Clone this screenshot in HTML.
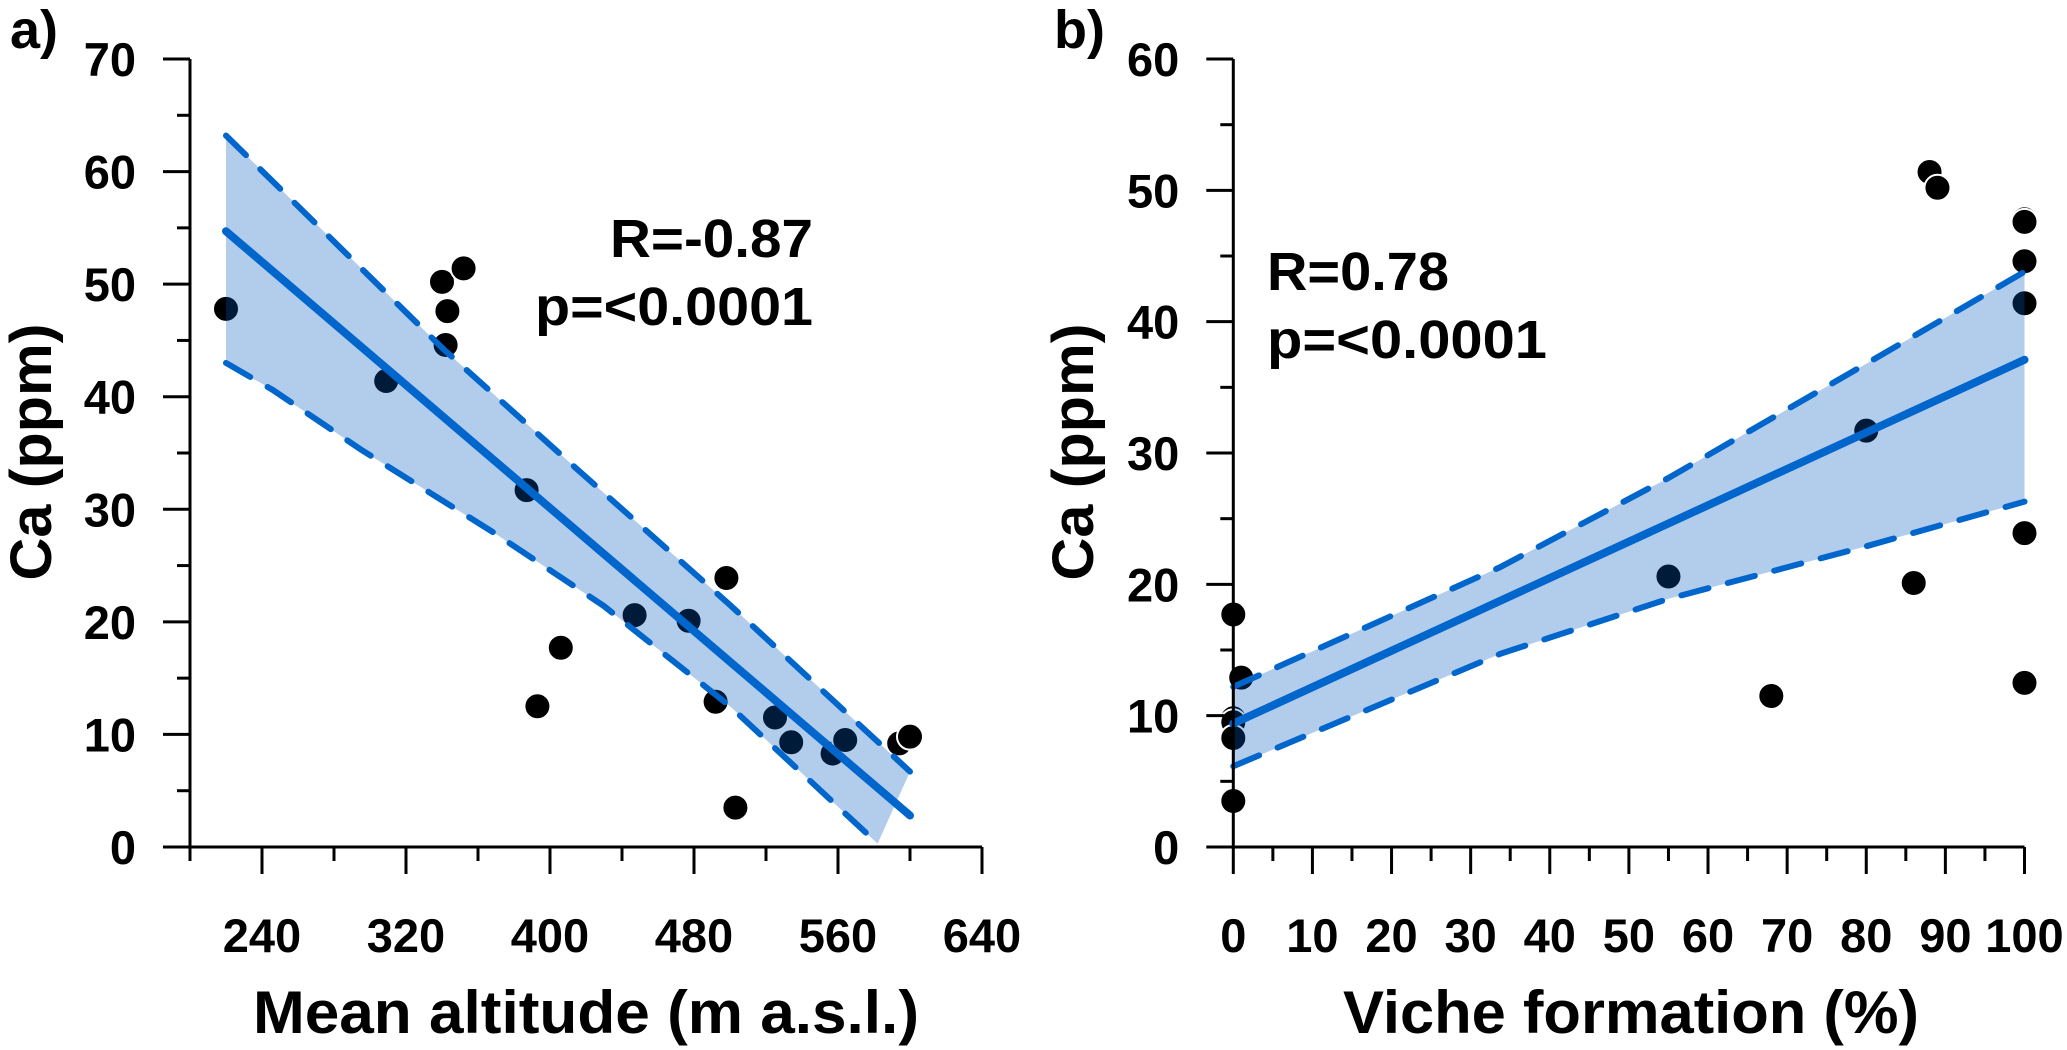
<!DOCTYPE html>
<html><head><meta charset="utf-8"><style>
html,body{margin:0;padding:0;background:#fff}
svg{display:block}
text{font-family:"Liberation Sans",sans-serif;font-weight:bold;fill:#000}
</style></head><body>
<svg id="chart" width="2067" height="1050" viewBox="0 0 2067 1050" xmlns="http://www.w3.org/2000/svg">
<g id="pa"></g>
<g id="pb"></g>
</svg>
<script>
// ---- Panel a data ----
const altX = [220,309,340,343,342,352,387,406,393,447,477,498,492,503,525,534,557,564,594,600];
const altCa = [47.8,41.4,50.2,47.6,44.6,51.4,31.7,17.7,12.5,20.6,20.1,23.9,12.9,3.5,11.5,9.3,8.3,9.5,9.2,9.8];
const altFitX = [220,600];
const altFitY = [54.7,2.8];
const altUpX = [220,271,341,412,500,600];
const altUpY = [63.2,55.2,44.2,34.0,21.5,6.7];
const altLoX = [220,246,295,369,430,500,582];
const altLoY = [43.0,40.6,35.3,27.9,21.4,12.5,0.3];
const altYTicks = [0,10,20,30,40,50,60,70];
const altXTicks = [240,320,400,480,560,640];
// ---- Panel b data ----
const vicX = [0,1,0,0,0,0,55,68,80,86,88,89,100,100,100,100,100,100];
const vicCa = [17.7,12.9,9.8,9.5,8.3,3.5,20.6,11.5,31.7,20.1,51.4,50.2,47.8,47.6,44.6,41.4,23.9,12.5];
const vicFitX = [0,100];
const vicFitY = [9.4,37.1];
const vicUpX = [0,33.7,55,80,100];
const vicUpY = [12.2,21.3,28.1,36.8,43.8];
const vicLoX = [0,33.7,55,80,100];
const vicLoY = [6.15,14.7,18.9,22.9,26.3];
const vicYTicks = [0,10,20,30,40,50,60];
const vicXTicks = [0,10,20,30,40,50,60,70,80,90,100];

const NS = "http://www.w3.org/2000/svg";
function mk(parent, tag, attrs, txt){
  const e = document.createElementNS(NS, tag);
  for (const k in attrs) e.setAttribute(k, attrs[k]);
  if (txt !== undefined) e.textContent = txt;
  parent.appendChild(e);
  return e;
}
const BLUE = "#0066cc";

function drawPanel(g, cfg){
  const {x, y} = cfg;
  cfg.px.forEach((v,i)=>{
    const c = mk(g,'circle',{cx:x(v),cy:y(cfg.py[i]),r:13,fill:'#000',stroke:'#fff','stroke-width':2});
    
    
  });
  let pts = cfg.upX.map((v,i)=>x(v)+','+y(cfg.upY[i]));
  for (let i=cfg.loX.length-1;i>=0;i--) pts.push(x(cfg.loX[i])+','+y(cfg.loY[i]));
  const band = mk(g,'polygon',{points:pts.join(' '),fill:'rgb(0,87,193)','fill-opacity':0.3});
  
  
  const up = mk(g,'polyline',{points:cfg.upX.map((v,i)=>x(v)+','+y(cfg.upY[i])).join(' '),fill:'none',stroke:BLUE,'stroke-width':6,'stroke-dasharray':'28 20','stroke-linecap':'round'});
  
  
  const lo = mk(g,'polyline',{points:cfg.loX.map((v,i)=>x(v)+','+y(cfg.loY[i])).join(' '),fill:'none',stroke:BLUE,'stroke-width':6,'stroke-dasharray':'28 20','stroke-linecap':'round'});
  
  
  const fit = mk(g,'line',{x1:x(cfg.fitX[0]),y1:y(cfg.fitY[0]),x2:x(cfg.fitX[1]),y2:y(cfg.fitY[1]),stroke:BLUE,'stroke-width':8,'stroke-linecap':'round'});
  
  
  const ax = mk(g,'g',{});
  
  
  mk(ax,'line',{x1:x(cfg.xmin),y1:y(cfg.ymax),x2:x(cfg.xmin),y2:y(0),stroke:'#000','stroke-width':3});
  mk(ax,'line',{x1:x(cfg.xmin)-27,y1:y(0),x2:x(cfg.xmax),y2:y(0),stroke:'#000','stroke-width':3});
  for (let v=0; v<=cfg.ymax; v+=cfg.ystep/2){
    const major = Math.abs(v % cfg.ystep) < 1e-6;
    if (v===0) continue;
    mk(ax,'line',{x1:x(cfg.xmin)-(major?27:13),y1:y(v),x2:x(cfg.xmin),y2:y(v),stroke:'#000','stroke-width':3});
  }
  for (let v=cfg.xmin; v<=cfg.xmax+1e-6; v+=cfg.xstep/2){
    const major = cfg.xt.some(t=>Math.abs(t-v)<1e-6);
    mk(ax,'line',{x1:x(v),y1:y(0),x2:x(v),y2:y(0)+(major?27:14),stroke:'#000','stroke-width':3});
  }
  cfg.yt.forEach(v=>{
    const t = mk(g,'text',{x:x(cfg.xmin)-cfg.labGap,y:y(v)+17,'text-anchor':'end','font-size':47},String(v));
    
    
  });
  cfg.xt.forEach(v=>{
    const t = mk(g,'text',{x:x(v),y:952,'text-anchor':'middle','font-size':47},String(v));
    
    
  });
}

const xA = v => 190 + (v-200)*1.8;
const yA = v => 847 - v*11.257;
const xB = v => 1233.3 + v*7.912;
const yB = v => 847 - v*13.133;

drawPanel(document.getElementById('pa'), {id:'panel-a', x:xA, y:yA, px:altX, py:altCa, fitX:altFitX, fitY:altFitY,
  upX:altUpX, upY:altUpY, loX:altLoX, loY:altLoY, xmin:200, xmax:640, ymax:70, ystep:10, xstep:80, xt:altXTicks, yt:altYTicks, labGap:54});
drawPanel(document.getElementById('pb'), {id:'panel-b', x:xB, y:yB, px:vicX, py:vicCa, fitX:vicFitX, fitY:vicFitY,
  upX:vicUpX, upY:vicUpY, loX:vicLoX, loY:vicLoY, xmin:0, xmax:100, ymax:60, ystep:10, xstep:10, xt:vicXTicks, yt:vicYTicks, labGap:54});
</script>
<div style="position:absolute;left:0;top:0;width:2067px;height:1050px;pointer-events:none">
<svg width="2067" height="1050" viewBox="0 0 2067 1050" xmlns="http://www.w3.org/2000/svg">
  <text x="10" y="48" font-size="54">a)</text>
  <text x="1054" y="48" font-size="54">b)</text>
  <text transform="translate(51,452) rotate(-90)" text-anchor="middle" font-size="58" textLength="257" lengthAdjust="spacingAndGlyphs">Ca (ppm)</text>
  <text transform="translate(1093,452) rotate(-90)" text-anchor="middle" font-size="58" textLength="257" lengthAdjust="spacingAndGlyphs">Ca (ppm)</text>
  <text x="253" y="1033" font-size="60" textLength="666" lengthAdjust="spacingAndGlyphs">Mean altitude (m a.s.l.)</text>
  <text x="1343" y="1033" font-size="60" textLength="576" lengthAdjust="spacingAndGlyphs">Viche formation (%)</text>
  <text x="610" y="257" font-size="54" textLength="203" lengthAdjust="spacingAndGlyphs">R=-0.87</text>
  <text x="535" y="325" font-size="54" textLength="278" lengthAdjust="spacingAndGlyphs">p=&lt;0.0001</text>
  <text x="1267" y="290" font-size="54" textLength="182" lengthAdjust="spacingAndGlyphs">R=0.78</text>
  <text x="1267" y="358" font-size="54" textLength="280" lengthAdjust="spacingAndGlyphs">p=&lt;0.0001</text>
</svg>
</div>
</body></html>
